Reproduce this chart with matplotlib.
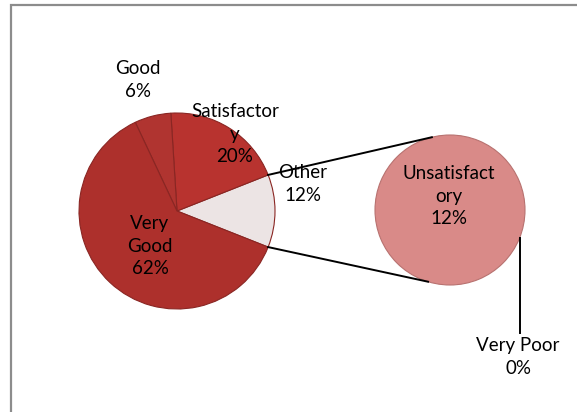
import numpy as np
import matplotlib
matplotlib.use("Agg")
import matplotlib.pyplot as plt
from matplotlib.patches import Rectangle

plt.rcParams['font.family'] = ['Lato', 'DejaVu Sans']

# main pie (Other = Unsatisfactory + Very Poor)
main_labels = ["Other", "Satisfactory", "Good", "Very Good"]
main_values = [12, 20, 6, 62]
main_colors = ["#ece4e4", "#b8332f", "#b03430", "#ad302c"]

# secondary pie
sub_labels = ["Unsatisfactory", "Very Poor"]
sub_values = [12, 0]
sub_colors = ["#d98a88", "#d98a88"]

W, H = 577, 412
fig = plt.figure(figsize=(W / 100, H / 100), dpi=100)
ax = fig.add_axes([0, 0, 1, 1])

c1, r1 = (177, H - 211), 98
c2, r2 = (450, H - 210), 75

other_frac = main_values[0] / sum(main_values)
start = -other_frac * 360 / 2

ax.pie(main_values, colors=main_colors, startangle=start, counterclock=True,
       center=c1, radius=r1, frame=True,
       wedgeprops=dict(edgecolor="#8a2623", linewidth=0.8))
sub_wedges, _ = ax.pie(sub_values, colors=sub_colors, startangle=start, counterclock=True,
                       center=c2, radius=r2, frame=True,
                       wedgeprops=dict(edgecolor="#b87270", linewidth=0.8))
for w, v in zip(sub_wedges, sub_values):
    if v == 0:
        w.set_linewidth(0)
sub_wedges[0].set_edgecolor("#b87270")

ax.set_xlim(0, W)
ax.set_ylim(0, H)
ax.set_aspect('equal')
ax.axis('off')

# chart frame
ax.add_patch(Rectangle((10.5, -20), W + 20, H - 4.5 + 20, fill=False,
                       edgecolor="#8c8c8c", linewidth=1.6))

# connector lines between the pies
a1 = np.deg2rad(-start)
p_top = (c1[0] + r1 * np.cos(a1), c1[1] + r1 * np.sin(a1))
p_bot = (c1[0] + r1 * np.cos(a1), c1[1] - r1 * np.sin(a1))
q_top = (c2[0] + r2 * np.cos(np.deg2rad(104)), c2[1] + r2 * np.sin(np.deg2rad(104)))
q_bot = (c2[0] + r2 * np.cos(np.deg2rad(-107)), c2[1] + r2 * np.sin(np.deg2rad(-107)))
ax.plot([p_top[0], q_top[0]], [p_top[1], q_top[1]], color="black", lw=1.4)
ax.plot([p_bot[0], q_bot[0]], [p_bot[1], q_bot[1]], color="black", lw=1.4)

# leader line for the zero slice
a0 = np.deg2rad(start)
lp = (c2[0] + r2 * np.cos(a0), c2[1] + r2 * np.sin(a0))
ax.plot([lp[0], lp[0]], [lp[1], H - 333], color="black", lw=1.4)

fs = 13.5
kw = dict(ha="center", va="center", fontsize=fs, linespacing=1.4, color="black")
ax.text(138, H - 80, "Good\n6%", **kw)
ax.text(235, H - 134, "Satisfactor\ny\n20%", **kw)
ax.text(303, H - 184, "Other\n12%", **kw)
ax.text(150, H - 246, "Very\nGood\n62%", **kw)
ax.text(449, H - 196, "Unsatisfact\nory\n12%", **kw)
ax.text(518, H - 357, "Very Poor\n0%", **kw)

fig.savefig("out.png", dpi=100)
